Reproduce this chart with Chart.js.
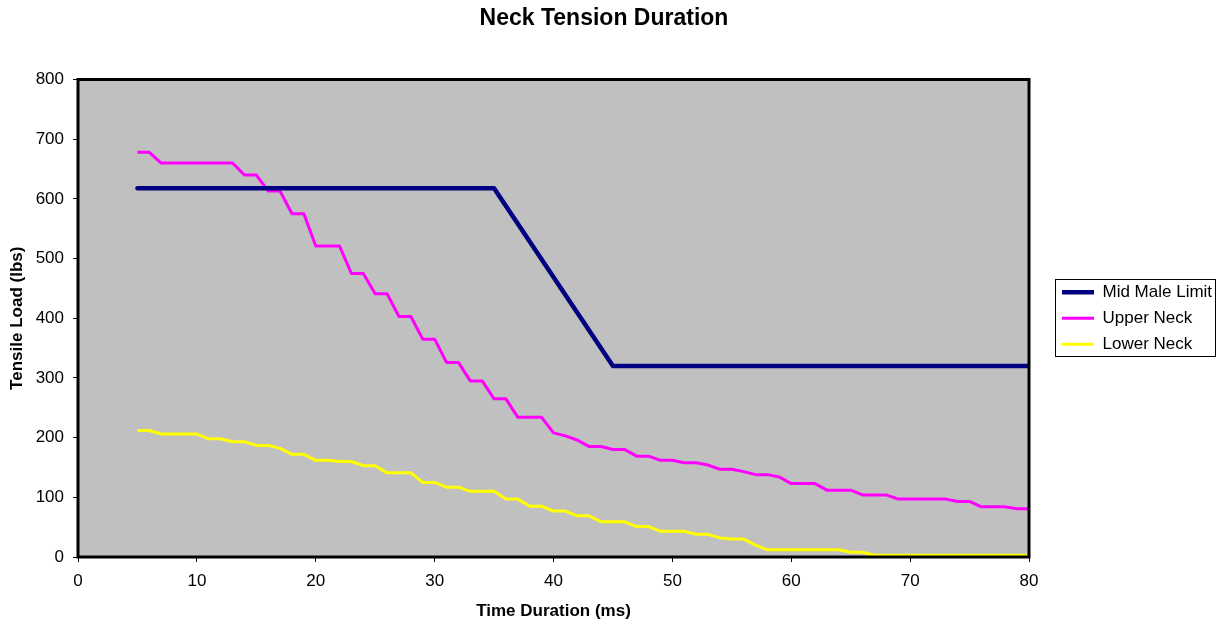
<!DOCTYPE html>
<html>
<head>
<meta charset="utf-8">
<script src="https://cdn.jsdelivr.net/npm/chart.js@4.4.1/dist/chart.umd.min.js"></script>
<style>
html,body{margin:0;padding:0;background:#fff;}
canvas{display:block;}
</style>
</head>
<body>
<canvas id="c" width="1223" height="625"></canvas>
<script>
// ---- data ----
const timeMs = [5,6,7,8,9,10,11,12,13,14,15,16,17,18,19,20,21,22,23,24,25,26,27,28,29,30,31,32,33,34,35,36,37,38,39,40,41,42,43,44,45,46,47,48,49,50,51,52,53,54,55,56,57,58,59,60,61,62,63,64,65,66,67,68,69,70,71,72,73,74,75,76,77,78,79,80];
const upperNeck = [678,678,660,660,660,660,660,660,660,640,640,613,613,575,575,521,521,521,475,475,441,441,403,403,365,365,326,326,295,295,265,265,234,234,234,208,203,196,185,185,180,180,169,169,162,162,158,158,154,147,147,143,138,138,134,123,123,123,112,112,112,104,104,104,97,97,97,97,97,93,93,84,84,84,81,81];
const lowerNeck = [212,212,206,206,206,206,198,198,193,193,187,187,182,172,172,162,162,160,160,153,153,141,141,141,125,125,117,117,110,110,110,97,97,85,85,77,77,69,69,59,59,59,51,51,43,43,43,38,38,32,30,30,20,12,12,12,12,12,12,12,8,8,3,3,3,3,3,3,3,3,3,3,3,3,3,3];
const limitTime = [5,35,45,80];
const limitLoad = [618,618,320,320];
const seriesNames = ['Mid Male Limit','Upper Neck','Lower Neck'];
const xTickValues = [0,10,20,30,40,50,60,70,80];
const yTickValues = [0,100,200,300,400,500,600,700,800];
const chartTitle = 'Neck Tension Duration';
const xTitle = 'Time Duration (ms)';
const yTitle = 'Tensile Load (lbs)';

function pts(xs, ys){ return xs.map((x,i)=>({x:x, y:ys[i]})); }

Chart.defaults.font.family = '"Liberation Sans", Arial, sans-serif';
Chart.defaults.color = '#000';

const areaPlugin = {
  id: 'areaPlugin',
  beforeLayout(chart){
    const lg = chart.legend;
    if (lg && !lg.__patched){
      const f = lg.fit;
      lg.fit = function(){ f.apply(this, arguments); this.width = 179; };
      lg.__patched = true;
    }
  },
  afterLayout(chart){
    const lg = chart.legend;
    if (lg){ lg.left += 24; lg.right += 24; }
  },
  beforeDraw(chart){
    const {ctx, chartArea:a} = chart;
    ctx.save();
    ctx.fillStyle = '#fff';
    ctx.fillRect(0,0,chart.width,chart.height);
    ctx.fillStyle = '#C0C0C0';
    ctx.fillRect(a.left, a.top, a.right-a.left, a.bottom-a.top);
    ctx.restore();
  },
  afterDatasetsDraw(chart){
    const {ctx, chartArea:a} = chart;
    ctx.save();
    ctx.strokeStyle = '#000';
    ctx.lineWidth = 3;
    ctx.strokeRect(a.left, a.top, a.right-a.left, a.bottom-a.top);
    ctx.restore();
  },
  afterDraw(chart){
    const lg = chart.legend;
    if (!lg || !lg.legendHitBoxes || !lg.legendHitBoxes.length) return;
    const hb = lg.legendHitBoxes;
    const top = hb[0].top - 4.5;
    const last = hb[hb.length-1];
    const bottom = last.top + last.height + 3.5;
    const left = lg.left + 2;
    const ctx = chart.ctx;
    ctx.save();
    ctx.strokeStyle = '#000';
    ctx.lineWidth = 1;
    ctx.strokeRect(Math.round(left)+0.5, Math.round(top)+0.5, 160, Math.round(bottom-top));
    ctx.restore();
  }
};

new Chart(document.getElementById('c'), {
  type: 'line',
  data: {
    datasets: [
      { label: seriesNames[0], data: pts(limitTime, limitLoad), borderColor: '#000080', backgroundColor: '#000080', borderWidth: 4.5, borderCapStyle: 'round', borderJoinStyle: 'round', pointRadius: 0, tension: 0, fill: false },
      { label: seriesNames[1], data: pts(timeMs, upperNeck), borderColor: '#FF00FF', backgroundColor: '#FF00FF', borderWidth: 3, borderJoinStyle: 'round', pointRadius: 0, tension: 0, fill: false },
      { label: seriesNames[2], data: pts(timeMs, lowerNeck), borderColor: '#FFFF00', backgroundColor: '#FFFF00', borderWidth: 3, borderJoinStyle: 'round', pointRadius: 0, tension: 0, fill: false }
    ]
  },
  options: {
    responsive: false,
    devicePixelRatio: 1,
    animation: false,
    layout: { padding: { left: 0, right: 15, top: 0, bottom: 0 } },
    plugins: {
      title: { display: true, text: chartTitle, color: '#000', font: { size: 23, weight: 'bold' }, padding: { top: 5, bottom: 46.9 } },
      legend: {
        display: true, position: 'right', fullSize: false, align: 'center',
        labels: { usePointStyle: true, pointStyle: 'line', pointStyleWidth: 32, padding: 9, color: '#000', font: { size: 17 } }
      },
      tooltip: { enabled: false }
    },
    scales: {
      x: {
        type: 'linear', position: 'bottom', min: 0, max: 80,
        afterBuildTicks(s){ s.ticks = xTickValues.map(v=>({value:v})); },
        afterFit(s){ s.height = 68; },
        ticks: { color: '#000', font: { size: 17 }, padding: 9, maxRotation: 0 },
        grid: { display: true, drawOnChartArea: false, drawTicks: true, tickLength: 5, color: '#000', lineWidth: 1 },
        border: { display: false },
        title: { display: true, text: xTitle, color: '#000', font: { size: 17, weight: 'bold' }, padding: { top: 0, bottom: 3 } }
      },
      y: {
        type: 'linear', position: 'left', min: 0, max: 800,
        afterBuildTicks(s){ s.ticks = yTickValues.map(v=>({value:v})); },
        afterFit(s){ s.width = 78; },
        ticks: { color: '#000', font: { size: 17 }, padding: 9 },
        grid: { display: true, drawOnChartArea: false, drawTicks: true, tickLength: 5, color: '#000', lineWidth: 1 },
        border: { display: false },
        title: { display: true, text: yTitle, color: '#000', font: { size: 17, weight: 'bold' }, padding: { top: 7, bottom: 0 } }
      }
    }
  },
  plugins: [areaPlugin]
});
</script>
</body>
</html>
